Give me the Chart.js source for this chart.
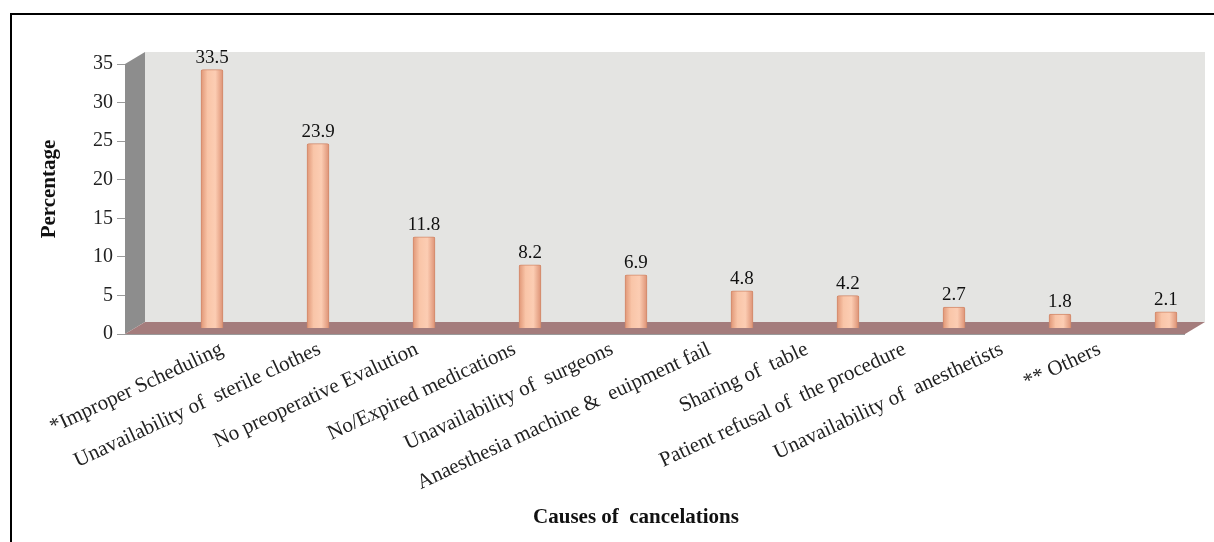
<!DOCTYPE html>
<html lang="en">
<head>
<meta charset="UTF-8">
<title>Causes of cancelations</title>
<script src="https://cdn.jsdelivr.net/npm/chart.js"></script>
<style>
    body { margin: 0; background: #fff; }
    #wrap { width: 1214px; height: 542px; }
</style>
</head>
<body>
<div id="wrap"><canvas id="myChart" width="1214" height="542"></canvas></div>

<script>
    // data
    const causes = [
        '*Improper Scheduling',
        'Unavailability of  sterile clothes',
        'No preoperative Evalution',
        'No/Expired medications',
        'Unavailability of  surgeons',
        'Anaesthesia machine &  euipment fail',
        'Sharing of  table',
        'Patient refusal of  the procedure',
        'Unavailability of  anesthetists',
        '** Others'
    ];
    const percentages = [33.5, 23.9, 11.8, 8.2, 6.9, 4.8, 4.2, 2.7, 1.8, 2.1];
    const yTicks = [0, 5, 10, 15, 20, 25, 30, 35];
    const xTitle = 'Causes of  cancelations';
    const yTitle = 'Percentage';

    const serif = "'Liberation Serif', 'Times New Roman', serif";

    // pseudo-3D wall + floor behind the bars
    const wallPlugin = {
        id: 'wall',
        beforeDraw(chart) {
            const { ctx, chartArea: a, scales } = chart;
            const y0 = scales.y.getPixelForValue(0);
            const yTop = scales.y.getPixelForValue(35);
            const dx = 20, dy = 12;
            ctx.save();

            // frame (cut off on the right and bottom in the original)
            ctx.strokeStyle = '#000';
            ctx.lineWidth = 2;
            ctx.beginPath();
            ctx.moveTo(11, 600);
            ctx.lineTo(11, 14);
            ctx.lineTo(1300, 14);
            ctx.stroke();

            // back wall
            ctx.fillStyle = '#e4e4e2';
            ctx.fillRect(a.left + dx, yTop - dy, a.right - a.left - dx, y0 - yTop);

            // side wall
            ctx.fillStyle = '#8d8d8d';
            ctx.beginPath();
            ctx.moveTo(a.left, yTop);
            ctx.lineTo(a.left + dx, yTop - dy);
            ctx.lineTo(a.left + dx, y0 - dy);
            ctx.lineTo(a.left, y0);
            ctx.closePath();
            ctx.fill();

            // floor
            ctx.fillStyle = '#a47c7c';
            ctx.beginPath();
            ctx.moveTo(a.left, y0);
            ctx.lineTo(a.right - dx, y0);
            ctx.lineTo(a.right, y0 - dy);
            ctx.lineTo(a.left + dx, y0 - dy);
            ctx.closePath();
            ctx.fill();

            ctx.strokeStyle = '#9a9a9a';
            ctx.lineWidth = 1;
            ctx.beginPath();
            ctx.moveTo(a.left, y0 + 0.5);
            ctx.lineTo(a.right - dx, y0 + 0.5);
            ctx.stroke();
            ctx.restore();
        }
    };

    // value labels above each bar, axis titles
    const textPlugin = {
        id: 'texts',
        afterDatasetsDraw(chart) {
            const ctx = chart.ctx;
            ctx.save();
            ctx.font = '19px ' + serif;
            ctx.fillStyle = '#111';
            ctx.textAlign = 'center';
            ctx.textBaseline = 'alphabetic';
            chart.getDatasetMeta(0).data.forEach((bar, i) => {
                ctx.fillText(String(percentages[i]), bar.x, bar.y - 7);
            });
            ctx.font = 'bold 21px ' + serif;
            ctx.textBaseline = 'middle';
            ctx.fillText(xTitle, 636, 518);
            ctx.translate(50, 189);
            ctx.rotate(-Math.PI / 2);
            ctx.fillText(yTitle, 0, 0);
            ctx.restore();
        }
    };

    function barFill(context) {
        const chart = context.chart;
        if (!chart.chartArea || !chart.scales.x) return '#f7c0a2';
        const x = chart.scales.x.getPixelForValue(context.dataIndex);
        const g = chart.ctx.createLinearGradient(x - 11, 0, x + 11, 0);
        g.addColorStop(0, '#e09676');
        g.addColorStop(0.3, '#f9c5a8');
        g.addColorStop(0.65, '#fccdb3');
        g.addColorStop(1, '#dd9275');
        return g;
    }

    const ctx = document.getElementById('myChart').getContext('2d');
    new Chart(ctx, {
        type: 'bar',
        data: {
            datasets: [{
                label: 'Percentage',
                data: percentages.map((v, i) => ({ x: i, y: v })),
                xAxisID: 'x',
                yAxisID: 'yb',
                backgroundColor: barFill,
                borderColor: '#d28a6c',
                borderWidth: 1,
                borderRadius: 2,
                borderSkipped: 'bottom',
                barThickness: 22
            }]
        },
        options: {
            responsive: false,
            animation: false,
            layout: { padding: { left: 0, right: 9, top: 64, bottom: 0 } },
            plugins: {
                legend: { display: false },
                tooltip: { enabled: false }
            },
            scales: {
                // bars sit half-way into the 3D depth
                x: {
                    type: 'linear', display: false, offset: false,
                    min: -0.8208, max: 9.368
                },
                yb: { type: 'linear', display: false, min: -0.78, max: 34.22 },
                // category names sit on the front edge, a bit tighter than the bars
                xl: {
                    type: 'linear',
                    position: 'bottom',
                    offset: false,
                    min: -0.995,
                    max: 10.082,
                    afterBuildTicks: s => { s.ticks = causes.map((_, i) => ({ value: i })); },
                    afterFit: s => { s.height = 208; },
                    ticks: {
                        autoSkip: false,
                        minRotation: 25,
                        maxRotation: 25,
                        padding: 3,
                        color: '#222',
                        font: { family: serif, size: 21 },
                        callback: v => causes[v]
                    },
                    grid: { display: false, drawTicks: false, offset: false },
                    border: { display: false }
                },
                y: {
                    position: 'left',
                    min: 0,
                    max: 35,
                    afterBuildTicks: s => { s.ticks = yTicks.map(v => ({ value: v })); },
                    afterFit: s => { s.width = 125; },
                    ticks: {
                        padding: 4,
                        color: '#222',
                        font: { family: serif, size: 20 }
                    },
                    grid: { drawOnChartArea: false, tickLength: 8, color: '#9a9a9a' },
                    border: { display: false }
                }
            }
        },
        plugins: [wallPlugin, textPlugin]
    });
</script>
</body>
</html>
